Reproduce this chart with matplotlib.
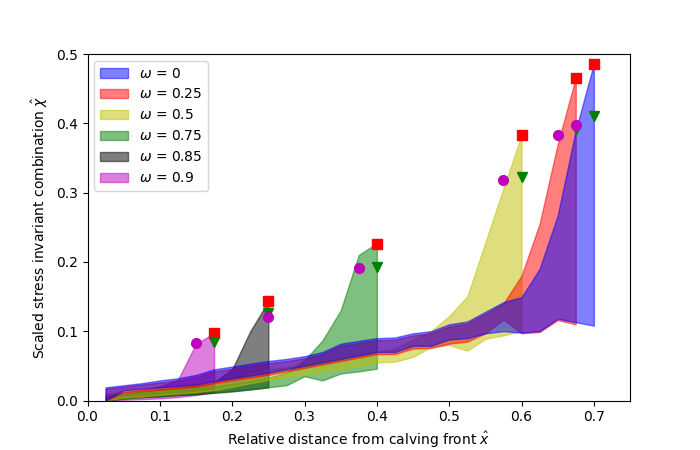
import numpy as np
import matplotlib.pyplot as plt

# omega values and colours of each band
omegas = ['0', '0.25', '0.5', '0.75', '0.85', '0.9']
colors = ['b', 'r', 'y', 'g', 'k', 'm']

# x positions (relative distance from calving front)
x_w0 = [0.025, 0.05, 0.075, 0.1, 0.125, 0.15, 0.175, 0.2, 0.225, 0.25, 0.275, 0.3, 0.325, 0.35,
        0.375, 0.4, 0.425, 0.45, 0.475, 0.5, 0.525, 0.55, 0.575, 0.6, 0.625, 0.65, 0.675, 0.7]
x_w025 = x_w0[:27]
x_w05 = x_w0[:24]
x_w075 = x_w0[:16]
x_w085 = x_w0[:10]
x_w09 = x_w0[:7]

# band limits
lo_w0 = [0.0, 0.015, 0.017, 0.019, 0.021, 0.023, 0.028, 0.032, 0.036, 0.040, 0.045, 0.050, 0.055, 0.060,
         0.065, 0.070, 0.070, 0.079, 0.079, 0.088, 0.090, 0.097, 0.100, 0.098, 0.100, 0.118, 0.113, 0.108]
hi_w0 = [0.019, 0.022, 0.025, 0.029, 0.032, 0.037, 0.045, 0.049, 0.053, 0.057, 0.060, 0.064, 0.070, 0.082,
         0.086, 0.090, 0.091, 0.097, 0.100, 0.110, 0.114, 0.128, 0.142, 0.149, 0.190, 0.267, 0.390, 0.486]

lo_w025 = [0.0, 0.012, 0.014, 0.016, 0.018, 0.020, 0.025, 0.029, 0.033, 0.037, 0.042, 0.047, 0.052, 0.057,
           0.062, 0.067, 0.067, 0.075, 0.076, 0.082, 0.085, 0.097, 0.117, 0.097, 0.099, 0.116, 0.110]
hi_w025 = [0.017, 0.020, 0.023, 0.026, 0.029, 0.034, 0.042, 0.046, 0.050, 0.054, 0.057, 0.061, 0.067, 0.079,
           0.083, 0.087, 0.088, 0.094, 0.097, 0.107, 0.111, 0.125, 0.140, 0.180, 0.255, 0.370, 0.466]

lo_w05 = [0.0, 0.004, 0.006, 0.008, 0.010, 0.012, 0.015, 0.020, 0.025, 0.030, 0.034, 0.038, 0.042, 0.046,
          0.050, 0.055, 0.056, 0.063, 0.077, 0.080, 0.072, 0.089, 0.094, 0.100]
hi_w05 = [0.010, 0.014, 0.016, 0.018, 0.020, 0.023, 0.026, 0.030, 0.038, 0.045, 0.048, 0.052, 0.056, 0.060,
          0.065, 0.070, 0.075, 0.088, 0.100, 0.122, 0.150, 0.228, 0.306, 0.383]

lo_w075 = [0.0, 0.003, 0.005, 0.006, 0.008, 0.010, 0.012, 0.014, 0.016, 0.019, 0.022, 0.035, 0.029, 0.039,
           0.042, 0.046]
hi_w075 = [0.004, 0.008, 0.011, 0.013, 0.016, 0.018, 0.020, 0.024, 0.028, 0.033, 0.040, 0.058, 0.087, 0.130,
           0.210, 0.227]

lo_w085 = [0.0, 0.003, 0.005, 0.006, 0.008, 0.009, 0.011, 0.013, 0.016, 0.019]
hi_w085 = [0.005, 0.010, 0.013, 0.016, 0.019, 0.022, 0.026, 0.045, 0.100, 0.143]

lo_w09 = [0.0, 0.001, 0.002, 0.003, 0.005, 0.008, 0.012]
hi_w09 = [0.008, 0.012, 0.015, 0.020, 0.030, 0.082, 0.097]

# markers
x_max = [0.175, 0.25, 0.4, 0.6, 0.675, 0.7]
y_max = [0.097, 0.143, 0.226, 0.383, 0.466, 0.486]
y_tri = [0.085, 0.126, 0.193, 0.322, 0.392, 0.41]
x_circ = [0.15, 0.25, 0.375, 0.575, 0.65, 0.675]
y_circ = [0.083, 0.121, 0.191, 0.318, 0.383, 0.398]

xs = [x_w0, x_w025, x_w05, x_w075, x_w085, x_w09]
los = [lo_w0, lo_w025, lo_w05, lo_w075, lo_w085, lo_w09]
his = [hi_w0, hi_w025, hi_w05, hi_w075, hi_w085, hi_w09]

fig = plt.figure(figsize=(7, 4.5), dpi=100)
ax = plt.gca()

# draw largest omega first so that omega = 0 sits on top
for i in reversed(range(len(omegas))):
    ax.fill_between(xs[i], los[i], his[i], color=colors[i], alpha=0.5,
                    label=r'$\omega$ = ' + omegas[i])

ax.plot(x_max, y_max, 'rs', ms=7)
ax.plot(x_max, y_tri, 'gv', ms=7)
ax.plot(x_circ, y_circ, 'mo', ms=7)

handles, labels = ax.get_legend_handles_labels()
ax.legend(handles[::-1], labels[::-1], loc='upper left')

ax.set_xlim(0, 0.75)
ax.set_ylim(0, 0.5)
ax.set_xlabel(r'Relative distance from calving front $\hat{x}$')
ax.set_ylabel(r'Scaled stress invariant combination $\hat{\chi}$')

plt.savefig('out.png', dpi=100)
